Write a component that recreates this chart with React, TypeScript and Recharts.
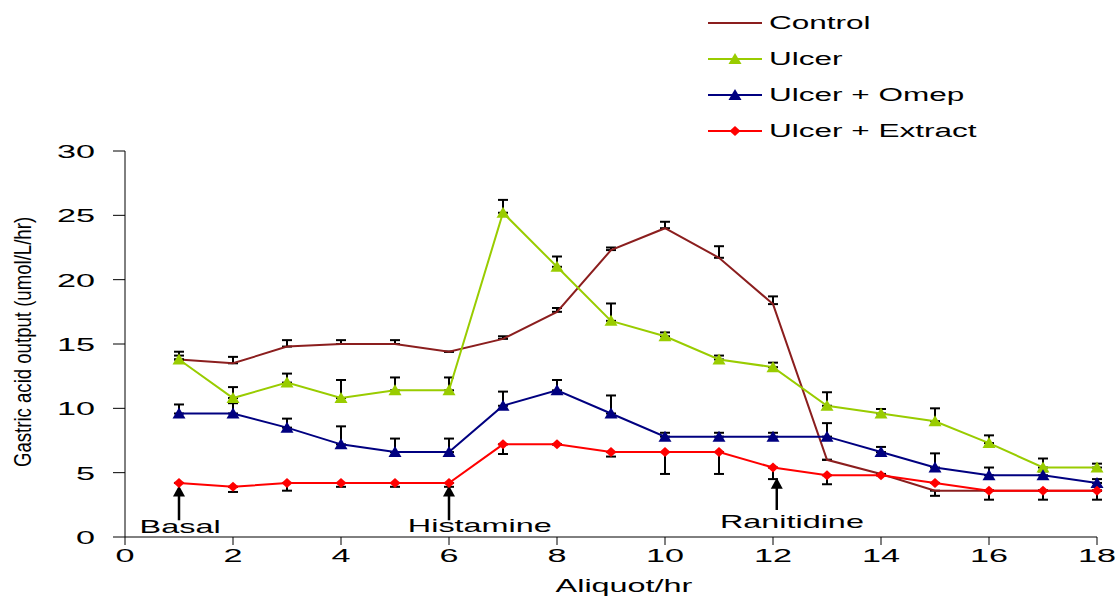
import React from 'react';
import {
  LineChart,
  Line,
  XAxis,
  YAxis,
  ErrorBar,
  ReferenceLine,
  ReferenceDot,
} from 'recharts';

// aliquot number (hour)
const aliquots = [1, 2, 3, 4, 5, 6, 7, 8, 9, 10, 11, 12, 13, 14, 15, 16, 17, 18];

// gastric acid output per group
const control = [13.8, 13.5, 14.8, 15.0, 15.0, 14.4, 15.4, 17.5, 22.3, 24.0, 21.7, 18.1, 6.0, 4.9, 3.6, 3.6, 3.6, 3.6];
const ulcer = [13.8, 10.8, 12.0, 10.8, 11.4, 11.4, 25.2, 21.0, 16.8, 15.6, 13.8, 13.2, 10.2, 9.6, 9.0, 7.3, 5.4, 5.4];
const omep = [9.6, 9.6, 8.5, 7.2, 6.6, 6.6, 10.2, 11.4, 9.6, 7.8, 7.8, 7.8, 7.8, 6.6, 5.4, 4.8, 4.8, 4.2];
const extract = [4.2, 3.9, 4.2, 4.2, 4.2, 4.2, 7.2, 7.2, 6.6, 6.6, 6.6, 5.4, 4.8, 4.8, 4.2, 3.6, 3.6, 3.6];

// error bars as [below, above]
const controlErr = [[0, 0.6], [0, 0.5], [0, 0.5], [0, 0.3], [0, 0.3], [0, 0], [0, 0.2], [0, 0.3], [0, 0.2], [0, 0.5], [0, 0.9], [0, 0.6], [0, 0], [0, 0], [0.4, 0], [0, 0], [0, 0], [0, 0]];
const ulcerErr = [[0, 0.3], [0, 0.85], [0, 0.7], [0, 1.4], [0, 1.0], [0, 1.0], [0, 1.0], [0, 0.8], [0, 1.35], [0, 0.3], [0, 0.3], [0, 0.35], [0, 1.05], [0, 0.35], [0, 1.0], [0, 0.6], [0, 0.7], [0, 0.3]];
const omepErr = [[0, 0.7], [0, 0.8], [0, 0.7], [0, 1.4], [0, 1.05], [0, 1.05], [0, 1.1], [0, 0.8], [0, 1.4], [0, 0.3], [0, 0.3], [0, 0.3], [0, 1.05], [0, 0.4], [0, 1.1], [0, 0.6], [0, 0.3], [0, 0.3]];
const extractErr = [[0, 0], [0.4, 0], [0.6, 0], [0.3, 0], [0.3, 0], [0.3, 0], [0.75, 0], [0, 0], [0.35, 0], [1.7, 0], [1.7, 0], [0.9, 0], [0.7, 0], [0, 0], [0, 0], [0.7, 0], [0.7, 0], [0.7, 0]];

const xTicks = [0, 2, 4, 6, 8, 10, 12, 14, 16, 18];
const yTicks = [0, 5, 10, 15, 20, 25, 30];

// treatment markers: arrow at x from y0 up to y1, label baseline centred at lx, ly
const events = [
  { name: 'Basal', x: 1, y0: 1.3, y1: 4.0, lx: 1.02, ly: 0.31 },
  { name: 'Histamine', x: 6, y0: 1.3, y1: 4.0, lx: 6.57, ly: 0.39 },
  { name: 'Ranitidine', x: 12.07, y0: 2.1, y1: 4.6, lx: 12.35, ly: 0.7 },
];

const series = [
  { key: 'control', err: 'controlErr', name: 'Control', color: '#8B1E1E', marker: 'none' },
  { key: 'ulcer', err: 'ulcerErr', name: 'Ulcer', color: '#99CC00', marker: 'triangle' },
  { key: 'omep', err: 'omepErr', name: 'Ulcer + Omep', color: '#000080', marker: 'triangle' },
  { key: 'extract', err: 'extractErr', name: 'Ulcer + Extract', color: '#FF0000', marker: 'diamond' },
];

const data = aliquots.map((x, i) => ({
  x,
  control: control[i],
  ulcer: ulcer[i],
  omep: omep[i],
  extract: extract[i],
  controlErr: controlErr[i],
  ulcerErr: ulcerErr[i],
  omepErr: omepErr[i],
  extractErr: extractErr[i],
}));

const FONT = '"Liberation Sans", Arial, sans-serif';
const WIDE = 1.8; // text is drawn wide, stretched sideways

function WideText({ x, y, size = 18, anchor = 'middle', children }: any) {
  return (
    <text
      transform={`translate(${x},${y}) scale(${WIDE},1)`}
      textAnchor={anchor}
      fontSize={size}
      fontFamily={FONT}
      fill="#000"
    >
      {children}
    </text>
  );
}

function XTick(props: any) {
  const { x, y, payload } = props;
  return <WideText x={x} y={y + 15} size={19}>{payload.value}</WideText>;
}

function YTick(props: any) {
  const { x, y, payload } = props;
  return <WideText x={x} y={y + 7} size={19} anchor="end">{payload.value}</WideText>;
}

// vertical axis title, narrow and rotated
function YTitle(props: any) {
  const vb = props.viewBox;
  const cx = vb.x + 23;
  const cy = vb.y + vb.height / 2 - 2;
  return (
    <text
      transform={`translate(${cx},${cy}) rotate(-90) scale(0.93,1.2)`}
      textAnchor="middle"
      dominantBaseline="central"
      fontSize={20}
      fontFamily={FONT}
      fill="#000"
    >
      Gastric acid output (umol/L/hr)
    </text>
  );
}

function Marker({ cx, cy, kind, color }: { cx: number; cy: number; kind: string; color: string }) {
  if (kind === 'triangle') {
    return <polygon points={`${cx},${cy - 6} ${cx + 6.5},${cy + 5} ${cx - 6.5},${cy + 5}`} fill={color} />;
  }
  if (kind === 'diamond') {
    return <polygon points={`${cx},${cy - 5} ${cx + 5.5},${cy} ${cx},${cy + 5} ${cx - 5.5},${cy}`} fill={color} />;
  }
  return null;
}

function makeDot(kind: string, color: string) {
  return (props: any) => {
    const { cx, cy, index } = props;
    if (cx == null || cy == null) return <g key={index} />;
    return (
      <g key={index}>
        <Marker cx={cx} cy={cy} kind={kind} color={color} />
      </g>
    );
  };
}

// legend sits above the plot, top right
function LegendBox() {
  return (
    <div style={{ position: 'absolute', left: 708, top: 5, fontFamily: FONT, fontSize: 18, color: '#000' }}>
      {series.map((s) => (
        <div key={s.key} style={{ display: 'flex', alignItems: 'center', height: 36, whiteSpace: 'nowrap' }}>
          <svg width={56} height={16} style={{ marginRight: 5 }}>
            <line x1={0} y1={8} x2={54} y2={8} stroke={s.color} strokeWidth={2} />
            <Marker cx={27} cy={8} kind={s.marker} color={s.color} />
          </svg>
          <span style={{ display: 'inline-block', transform: 'scaleX(1.75)', transformOrigin: 'left center' }}>{s.name}</span>
        </div>
      ))}
    </div>
  );
}

function ArrowShape(props: any) {
  const { x1, y1, y2 } = props;
  const top = Math.min(y1, y2);
  const bottom = Math.max(y1, y2);
  return (
    <g>
      <line x1={x1} y1={bottom} x2={x1} y2={top + 8} stroke="#000" strokeWidth={2.5} />
      <polygon points={`${x1},${top} ${x1 + 6},${top + 11} ${x1 - 6},${top + 11}`} fill="#000" />
    </g>
  );
}

export default function App() {
  return (
    <div style={{ position: 'absolute', left: 0, top: 0, width: 1118, height: 597, background: '#fff' }}>
      <LineChart
        width={1118}
        height={597}
        data={data}
        margin={{ top: 151, right: 21, bottom: 0, left: 0 }}
      >
        <XAxis
          dataKey="x"
          type="number"
          domain={[0, 18]}
          ticks={xTicks}
          height={60}
          stroke="#000"
          tickSize={8}
          tickMargin={2}
          tick={<XTick />}
          label={{
            content: (p: any) => {
              const vb = p.viewBox;
              return <WideText x={vb.x + vb.width / 2 + 13} y={vb.y + vb.height - 5}>Aliquot/hr</WideText>;
            },
          }}
        />
        <YAxis
          type="number"
          domain={[0, 30]}
          ticks={yTicks}
          width={125}
          stroke="#000"
          tickSize={12}
          tickMargin={18}
          tick={<YTick />}
          label={{ content: (p: any) => <YTitle {...p} /> }}
        />
        {events.map((e) => (
          <ReferenceLine
            key={e.name}
            segment={[{ x: e.x, y: e.y0 }, { x: e.x, y: e.y1 }]}
            shape={ArrowShape}
            ifOverflow="visible"
          />
        ))}
        {events.map((e) => (
          <ReferenceDot
            key={e.name + '-label'}
            x={e.lx}
            y={e.ly}
            r={0}
            ifOverflow="visible"
            shape={(p: any) => <WideText x={p.cx} y={p.cy}>{e.name}</WideText>}
          />
        ))}
        {series.map((s) => (
          <Line
            key={s.key}
            dataKey={s.key}
            name={s.name}
            type="linear"
            stroke={s.color}
            strokeWidth={2}
            dot={makeDot(s.marker, s.color)}
            activeDot={false}
            isAnimationActive={false}
          >
            <ErrorBar dataKey={s.err} width={5} stroke="#000" strokeWidth={2} direction="y" />
          </Line>
        ))}
      </LineChart>
      <LegendBox />
    </div>
  );
}
